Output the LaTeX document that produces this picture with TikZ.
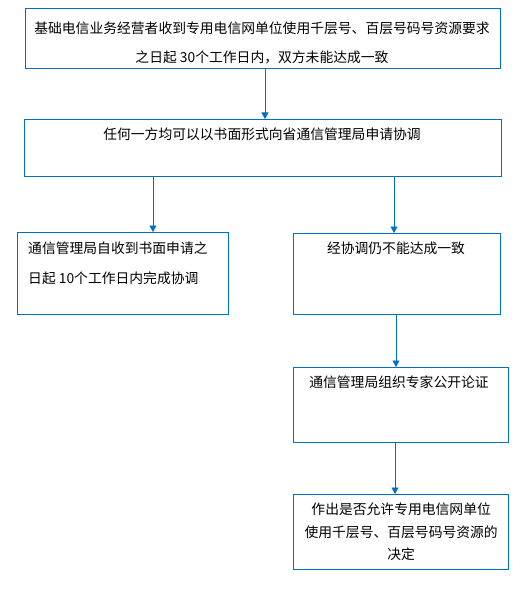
\documentclass[tikz,border=0pt]{standalone}
\usepackage{fontspec}
\setmainfont{Noto Sans CJK SC}
\usetikzlibrary{arrows.meta}
\definecolor{bl}{RGB}{0,112,192}
\begin{document}
\begin{tikzpicture}[x=1pt,y=-1pt,
 box/.style={draw=bl,line width=1.3pt,rectangle,inner sep=0pt,anchor=north west},
 txt/.style={inner sep=0pt,anchor=north,font=\fontsize{13.8}{29}\selectfont,align=center},
 arr/.style={draw=bl,line width=0.8pt,-{Triangle[length=6.5pt,width=7pt]}}]
\useasboundingbox[fill=white] (0,0) rectangle (530,599);
% boxes
\node[box,minimum width=475pt,minimum height=60pt] (b1) at (25,8) {};
\node[box,minimum width=477pt,minimum height=57pt] (b2) at (24,119) {};
\node[box,minimum width=211pt,minimum height=82pt] (b3) at (17,232) {};
\node[box,minimum width=207pt,minimum height=81pt] (b4) at (293,233) {};
\node[box,minimum width=215pt,minimum height=75pt] (b5) at (293,367) {};
\node[box,minimum width=215pt,minimum height=75pt] (b6) at (293,494) {};
% texts
\node[txt] (t1) at (262,21.5) {基础电信业务经营者收到专用电信网单位使用千层号、百层号码号资源要求\\之日起 30个工作日内，双方未能达成一致};
\node[txt] (t2) at (262,127.5) {任何一方均可以以书面形式向省通信管理局申请协调};
\node[txt,anchor=north west,align=left,font=\fontsize{13.8}{30}\selectfont] (t3) at (28,241.5) {通信管理局自收到书面申请之\\日起 10个工作日内完成协调};
\node[txt] (t4) at (396,241.5) {经协调仍不能达成一致};
\node[txt] (t5) at (399,375.5) {通信管理局组织专家公开论证};
\node[txt,anchor=center,font=\fontsize{13.8}{22.5}\selectfont] (t6) at (b6.center) {作出是否允许专用电信网单位\\使用千层号、百层号码号资源的\\决定};
% connectors
\coordinate (xa) at (265,0);
\coordinate (xb) at (153,0);
\coordinate (xc) at (394,0);
\coordinate (xd) at (396,0);
\coordinate (xe) at (395,0);
\draw[arr] (b1.south -| xa) -- (b2.north -| xa);
\draw[arr] (b2.south -| xb) -- (b3.north -| xb);
\draw[arr] (b2.south -| xc) -- (b4.north -| xc);
\draw[arr] (b4.south -| xd) -- (b5.north -| xd);
\draw[arr] (b5.south -| xe) -- (b6.north -| xe);
\end{tikzpicture}
\end{document}
